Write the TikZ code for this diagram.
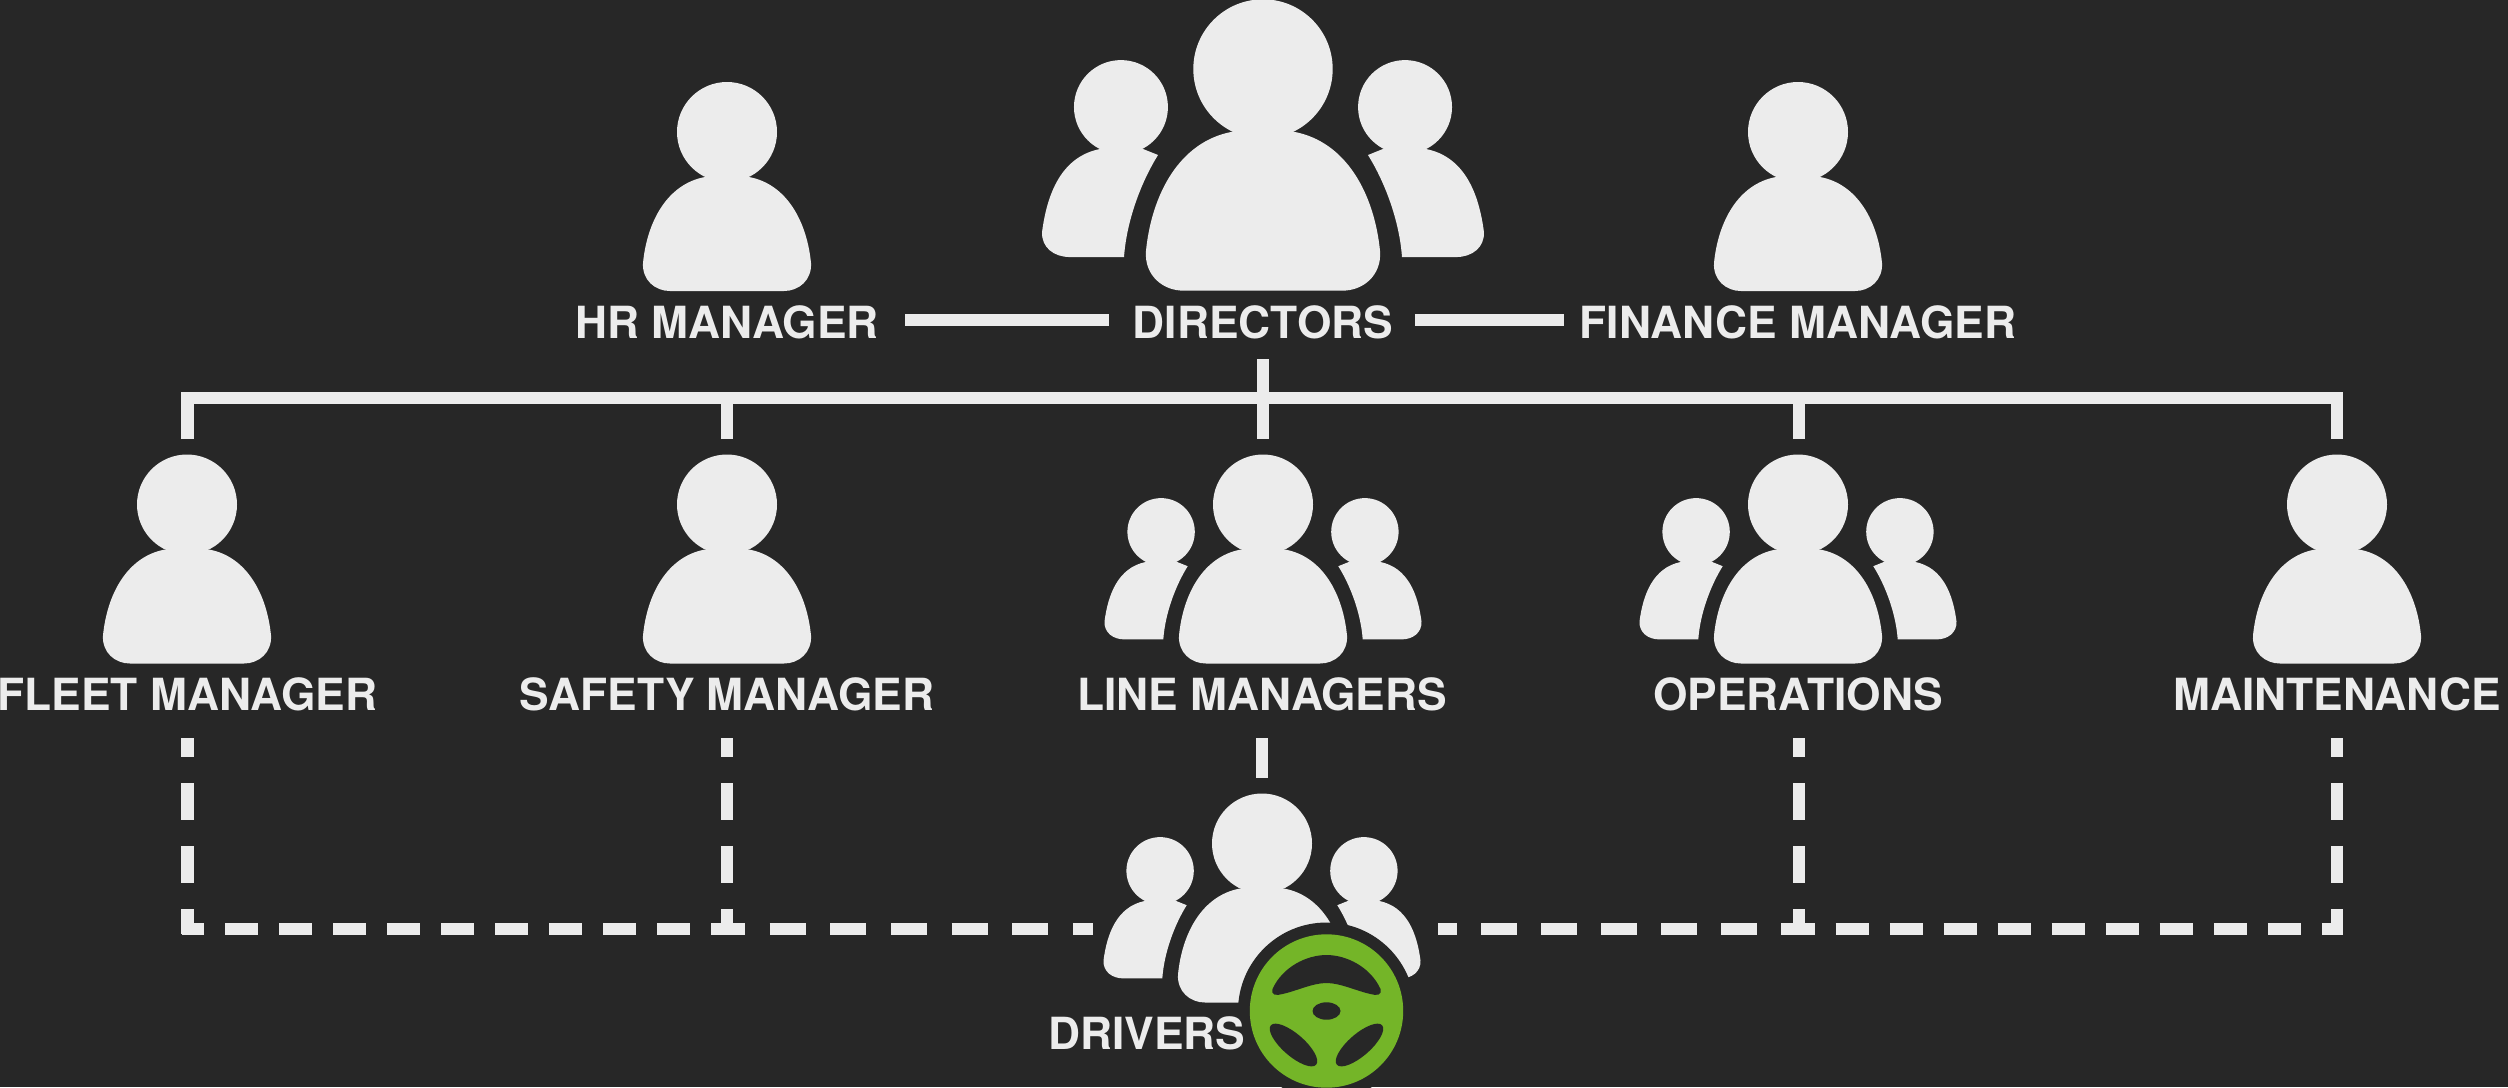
\documentclass[tikz,border=0pt]{standalone}
\usepackage{fontspec}
\setmainfont{TeX Gyre Heros}
\definecolor{boardbg}{HTML}{272727}
\definecolor{iconfg}{HTML}{ECECEC}
\definecolor{wheelgreen}{HTML}{74B528}
\newcommand{\personshape}{
	\fill[iconfg] (0,0) circle [radius=50];
	\fill[iconfg] (-22,45) .. controls (-60,52) and (-80,90) .. (-84,131) .. controls (-85,148) and (-72,159) .. (-57,159)
		-- (57,159) .. controls (72,159) and (85,148) .. (84,131) .. controls (80,90) and (60,52) .. (22,45) -- cycle;
}
\tikzset{
	link/.style={draw=iconfg, line width=0.12cm},
	vdash/.style={link, dash pattern=on 0.37cm off 0.26cm, dash phase=0.18cm},
	role/.style={text=iconfg, font=\fontsize{12.6}{14}\selectfont\bfseries, anchor=base, inner sep=0pt, text height=10.2pt, text depth=0pt},
	person/.pic={\personshape},
	crew/.pic={
		\personshape
		\foreach \s in {-1,1}{
			\begin{scope}[xscale=\s]
				\fill[iconfg] (-101.9,27.3) circle [radius=33.7];
				\fill[iconfg] (-117,57.4) .. controls (-145,63) and (-155,90) .. (-158.5,117) .. controls (-159,128) and (-150,134.9) .. (-138.5,134.9)
					-- (-99.7,134.9) .. controls (-98,110) and (-88,82) .. (-75.3,61.7) -- (-86,57.4) -- cycle;
			\end{scope}
		}
	}
}

\begin{document}
\begin{tikzpicture}[x=0.01cm, y=-0.01cm]
	\fill[boardbg] (0,0) rectangle (2508,1087);
	\useasboundingbox (0,0) rectangle (2508,1087);

	\pic at (727,132) {person};
	\pic[scale=1.394] at (1263,69) {crew};
	\pic at (1798,132) {person};
	\pic at (187,504.5) {person};
	\pic at (727,504.5) {person};
	\pic at (1263,504.5) {crew};
	\pic at (1798,504.5) {crew};
	\pic at (2337,504.5) {person};
	\pic at (1262,843.5) {crew};

	\node[role] (hr) at (727,338) {HR MANAGER};
	\node[role] (dir) at (1263,338) {DIRECTORS};
	\node[role] (fin) at (1798,338) {FINANCE MANAGER};
	\node[role] (fleet) at (187.5,710) {FLEET MANAGER};
	\node[role] (safety) at (727,710) {SAFETY MANAGER};
	\node[role] (line) at (1262,710) {LINE MANAGERS};
	\node[role] (ops) at (1798,710) {OPERATIONS};
	\node[role] (maint) at (2337,710) {MAINTENANCE};

	\draw[link, shorten <=0.26cm, shorten >=0.23cm] (hr) -- (dir);
	\draw[link, shorten <=0.21cm, shorten >=0.15cm] (dir) -- (fin);

	\coordinate (fleettop) at (187.5,439);
	\coordinate (safetytop) at (727,439);
	\coordinate (linetop) at (1263,439);
	\coordinate (opstop) at (1798.5,439);
	\coordinate (mainttop) at (2337,439);
	\coordinate (dirtail) at (1263,359);
	\coordinate (busleft) at (187.5,397.5);
	\coordinate (busright) at (2337,397.5);

	\draw[link] (fleettop) -- (busleft) -- (busright) -- (mainttop);
	\draw[link] (safetytop) -- (safetytop |- busleft);
	\draw[link] (dirtail) -- (linetop);
	\draw[link] (opstop) -- (opstop |- busleft);

	\coordinate (linetail) at (1262,738);
	\coordinate (drvtop) at (1262,778);
	\draw[link] (linetail) -- (drvtop);

	\coordinate (fleetlow) at (187.5,738);
	\coordinate (safetylow) at (727,738);
	\coordinate (opslow) at (1798.5,738);
	\coordinate (maintlow) at (2337,738);
	\coordinate (fleetfoot) at (187.5,934);
	\coordinate (safetyfoot) at (727,934);
	\coordinate (opsfoot) at (1798.5,934);
	\coordinate (maintfoot) at (2337,934);

	\draw[vdash] (fleetlow) -- (fleetfoot);
	\draw[vdash] (safetylow) -- (safetyfoot);
	\draw[vdash] (opslow) -- (opsfoot);
	\draw[vdash] (maintlow) -- (maintfoot);

	\coordinate (rowleft) at (181.5,928.5);
	\coordinate (rowsafety) at (727,928.5);
	\coordinate (rowdrvl) at (1093,928.5);
	\coordinate (rowdrvr) at (1438,928.5);
	\coordinate (rowops) at (1798.5,928.5);
	\coordinate (rowright) at (2343,928.5);

	\draw[link, dash pattern=on 0.33cm off 0.21cm, dash phase=0.105cm] (rowleft) -- (rowsafety);
	\draw[link, dash pattern=on 0.36cm off 0.246cm, dash phase=0.18cm] (rowsafety) -- (rowdrvl);
	\draw[link, dash pattern=on 0.36cm off 0.24cm, dash phase=0.17cm] (rowdrvr) -- (rowops);
	\draw[link, dash pattern=on 0.33cm off 0.21cm, dash phase=0.17cm] (rowops) -- (rowright);

	\fill[boardbg] (1326.5,1011) circle [radius=88.5];

	\begin{scope}[shift={(1326.5,1011)}]
		\fill[wheelgreen] (0,0) circle [radius=76.7];
		\fill[boardbg] (-54,-22) .. controls (-44,-44) and (-20,-56) .. (0,-56) .. controls (20,-56) and (44,-44) .. (54,-22)
			.. controls (56,-16) and (50,-15) .. (44,-17) .. controls (30,-20) and (14,-28) .. (0,-28)
			.. controls (-14,-28) and (-30,-20) .. (-44,-17) .. controls (-50,-15) and (-56,-16) .. (-54,-22) -- cycle;
		\fill[boardbg] (0,0) ellipse [x radius=14, y radius=8.7];
		\fill[boardbg, rotate around={-41:(-33,34)}] (-33,34) ellipse [x radius=30, y radius=11];
		\fill[boardbg, rotate around={41:(33,34)}] (33,34) ellipse [x radius=30, y radius=11];
	\end{scope}

	\node[role] (drv) at (1147,1049) {DRIVERS};
\end{tikzpicture}
\end{document}
